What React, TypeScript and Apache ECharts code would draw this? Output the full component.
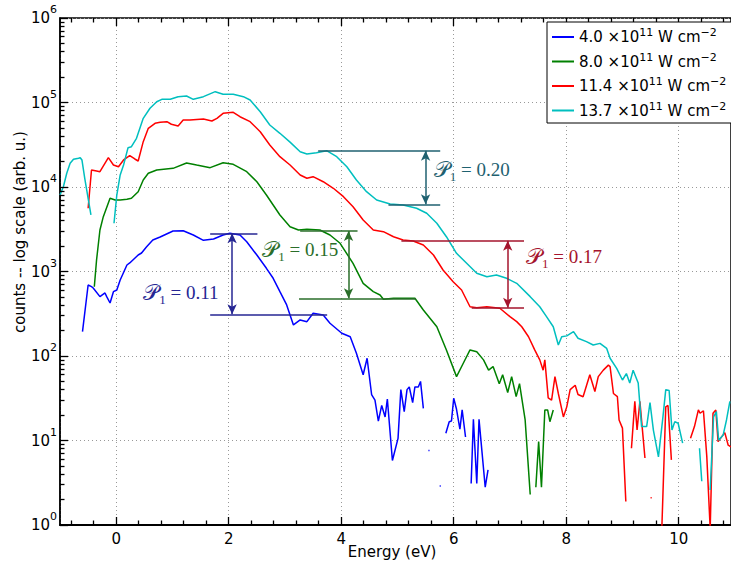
import React, { useEffect, useRef } from 'react';
import * as echarts from 'echarts';

// ---------- data (energy eV, counts) ----------
const seriesNames = ['4.0', '8.0', '11.4', '13.7'];
const seriesColors = ['#0000ff', '#008000', '#ff0000', '#00bfbf'];

const s4_0: (number | null)[][] = [
  [-0.60, 194], [-0.50, 692], [-0.44, 661], [-0.41, 638], [-0.29, 504], [-0.20, 557], [-0.17, 504], [-0.11, 424],
  [-0.05, 577], [0.01, 604], [0.07, 793], [0.19, 1194], [0.24, 1262], [0.39, 1567], [0.45, 1656], [0.54, 1965],
  [0.65, 2359], [0.78, 2558], [1.01, 3013], [1.19, 3041], [1.37, 2704], [1.55, 2339], [1.73, 2426], [1.90, 2704],
  [2.02, 2832], [2.20, 2704], [2.32, 2254], [2.50, 1567], [2.67, 1091], [2.79, 831], [2.91, 577], [3.03, 402],
  [3.15, 233], [3.27, 267], [3.39, 255], [3.50, 320], [3.68, 306], [3.80, 244], [4.01, 186], [4.16, 169],
  [4.27, 108], [4.39, 60], [4.46, 94], [4.54, 35], [4.60, 30], [4.66, 17], [4.72, 26], [4.78, 19], [4.82, 31],
  [4.91, 5.8], [5.01, 10.6], [5.06, 40], [5.12, 22], [5.17, 40], [5.21, 43], [5.27, 28], [5.31, 43], [5.37, 43],
  [5.41, 50], [5.46, 24], [5.50, null], [5.55, 7.6], [5.57, 7.6], [5.65, null], [5.75, 2.9], [5.77, 2.9],
  [5.80, null], [5.86, 12.2], [5.92, 16.7], [5.96, 17], [6.00, 31.6], [6.05, 23.4], [6.11, 13.6], [6.15, 23],
  [6.21, 11], [6.26, null], [6.31, 3.1], [6.35, 17.8], [6.41, 3.1], [6.45, 17.8], [6.56, 2.8], [6.61, 4.5],
];

const s8_0: (number | null)[][] = [
  [-0.39, 661], [-0.35, 1368], [-0.29, 3098], [-0.23, 4456], [-0.11, 7350], [-0.02, 7020], [0.07, 7020],
  [0.19, 7150], [0.27, 7350], [0.39, 8800], [0.48, 12100], [0.57, 14530], [0.72, 15900], [1.01, 16630],
  [1.25, 19230], [1.43, 18200], [1.67, 16940], [1.90, 19400], [2.08, 18570], [2.32, 15170], [2.50, 11550],
  [2.67, 8040], [2.79, 6125], [2.91, 4665], [3.09, 3388], [3.24, 3100], [3.39, 3157], [3.62, 3100],
  [3.80, 2704], [3.98, 2157], [4.21, 1250], [4.39, 725], [4.57, 577], [4.69, 527], [4.75, 469], [4.93, 482],
  [5.16, 482], [5.31, 482], [5.46, 350], [5.70, 222], [5.87, 118], [6.05, 57], [6.17, 82], [6.29, 118],
  [6.41, 112], [6.53, 90], [6.62, 68], [6.70, 75], [6.81, 47], [6.87, 60], [6.96, 37], [7.03, 57], [7.11, 33],
  [7.17, 47], [7.27, 17.5], [7.36, 2.3], [7.41, null], [7.46, 2.8], [7.51, 9.7], [7.56, 2.8], [7.62, 23],
  [7.67, 23], [7.71, 16.7], [7.77, 23],
];

const s11_4: (number | null)[][] = [
  [-0.50, 5600], [-0.44, 15900], [-0.35, 15460], [-0.29, 15170], [-0.14, 22230], [-0.05, 18200], [0.04, 17380],
  [0.13, 20880], [0.24, 23500], [0.33, 21450], [0.39, 20300], [0.48, 34390], [0.57, 49500], [0.69, 56750],
  [0.78, 58300], [0.90, 59300], [0.98, 55250], [1.10, 52700], [1.19, 62100], [1.31, 62100], [1.55, 63800],
  [1.70, 60400], [1.79, 65000], [1.90, 74500], [2.08, 76600], [2.20, 67900], [2.38, 59300], [2.56, 45100],
  [2.73, 31400], [2.91, 22860], [3.09, 18200], [3.27, 13870], [3.39, 12680], [3.50, 13250], [3.68, 11550],
  [3.86, 9660], [4.04, 7680], [4.21, 5850], [4.39, 4070], [4.57, 3100], [4.75, 2960], [4.93, 2580],
  [5.10, 2360], [5.28, 2297], [5.46, 2060], [5.64, 1567], [5.81, 1042], [5.99, 757], [6.14, 604], [6.29, 383],
  [6.41, 373], [6.59, 383], [6.82, 367], [7.00, 292], [7.12, 255], [7.21, 222], [7.33, 169], [7.44, 118],
  [7.53, 90], [7.59, 68], [7.62, 90], [7.68, 32], [7.74, 30], [7.80, 57], [7.86, 36], [7.95, 19], [8.01, 25],
  [8.07, 40], [8.16, 45], [8.21, 35], [8.30, 33], [8.42, 60], [8.51, 38], [8.57, 57], [8.66, 68], [8.75, 78],
  [8.78, 75], [8.84, 36], [8.91, 33], [8.94, 17.5], [9.00, 14], [9.06, 1.9], [9.11, null], [9.16, 8.1],
  [9.22, 29], [9.26, 13.3], [9.31, 29], [9.40, 6.2], [9.45, null], [9.50, 2.1], [9.52, 2.1], [9.60, null],
  [9.70, 0.9], [9.77, 25], [9.81, 26], [9.87, 5.9], [10.0, null], [10.21, 10.6], [10.28, 14.6], [10.35, 23],
  [10.38, 21], [10.44, 22.5], [10.50, 6.4], [10.56, 0.9], [10.61, 21], [10.66, 23], [10.70, 9.7],
  [10.82, 12.4], [10.88, 8.8], [10.93, 8.4],
];

const s13_7: (number | null)[][] = [
  [-1.00, 8040], [-0.94, 10080], [-0.88, 14530], [-0.82, 19070], [-0.76, 21260], [-0.67, 21860], [-0.64, 22230],
  [-0.61, 20880], [-0.56, 12680], [-0.50, 7350], [-0.45, 4665], [-0.30, null], [-0.04, 3720], [0.01, 8040],
  [0.07, 13870], [0.13, 18200], [0.21, 29200], [0.27, 30000], [0.36, 37700], [0.48, 65000], [0.60, 85400],
  [0.72, 102100], [0.81, 109100], [0.96, 109100], [1.10, 117200], [1.25, 119400], [1.37, 109100],
  [1.55, 117200], [1.76, 134300], [1.90, 125100], [2.08, 125100], [2.26, 117200], [2.38, 107000],
  [2.56, 77800], [2.73, 54200], [2.91, 43200], [3.09, 34000], [3.27, 26180], [3.39, 24600], [3.56, 25470],
  [3.74, 26900], [3.92, 22860], [4.10, 17380], [4.27, 12110], [4.45, 8800], [4.63, 7020], [4.87, 6300],
  [5.10, 6125], [5.34, 5600], [5.52, 4885], [5.70, 3720], [5.87, 2580], [6.05, 1642], [6.23, 1250],
  [6.41, 952], [6.59, 867], [6.76, 909], [6.94, 831], [7.12, 725], [7.36, 504], [7.53, 383], [7.65, 292],
  [7.77, 222], [7.86, 135], [7.92, 169], [8.01, 173], [8.13, 194], [8.21, 162], [8.36, 148], [8.48, 135],
  [8.60, 141], [8.72, 123], [8.78, 94], [8.90, 71], [9.00, 52], [9.07, 62], [9.13, 48], [9.19, 68], [9.28, 48],
  [9.34, 14.6], [9.43, 14.6], [9.49, 28], [9.55, 13.3], [9.64, 6.4], [9.72, 19], [9.77, 40], [9.83, 39],
  [9.88, 13.3], [9.93, 16.7], [9.99, 16], [10.07, 9.3], [10.20, null], [10.37, 8.1], [10.41, 3.3],
  [10.50, null], [10.56, 2.6], [10.62, 19], [10.67, 22], [10.71, 10.1], [10.79, 11.6], [10.85, 17.5],
  [10.91, 29],
];

// ---------- annotations: [xStart, xEnd, y] lines, arrow [x, yTop, yBottom], label [x, y, text] ----------
const annColors = ['#262693', '#2a6e2a', '#a5142d', '#1f6170'];
const annTopLines = [[1.67, 2.51, 2832], [3.27, 4.29, 3013], [5.07, 7.25, 2315], [3.59, 5.76, 26900]];
const annBottomLines = [[1.67, 3.75, 311], [3.25, 5.33, 482], [6.32, 7.25, 373], [4.84, 5.76, 6240]];
const annArrows = [[2.06, 2832, 311], [4.13, 3013, 482], [6.96, 2315, 373], [5.50, 26900, 6240]];
const annLabels = [[1.15, 557, '0.11'], [3.27, 1797, '0.15'], [7.96, 1485, '0.17'], [6.32, 15900, '0.20']];

// ---------- axes ----------
const xMin = -1;
const xMax = 10.93;
const yMin = 1;
const yMax = 1e6;
const xMajorTicks = [0, 2, 4, 6, 8, 10];
const xMinorStep = 0.4;
const yDecades = [0, 1, 2, 3, 4, 5];

const FONT = 'DejaVu Sans';
const MATH_FONT = 'Liberation Serif';

export default function App() {
  const ref = useRef<HTMLDivElement>(null);
  useEffect(() => {
    const chart = echarts.init(ref.current!, null, { renderer: 'svg' });

    // plot scale (px per unit) used only to turn tick lengths into data-space offsets
    const pxPerDecade = 507 / 6;
    const pxPerEv = 671 / (xMax - xMin);
    const tickStyle = { color: '#000', width: 1.3, type: 'solid' };
    const tickLines: any[] = [];
    for (let i = -2; i <= 27; i++) {
      const v = Math.round(i * xMinorStep * 10) / 10;
      const major = xMajorTicks.some((m) => Math.abs(m - v) < 1e-6);
      const f = Math.pow(10, (major ? 8 : 4.5) / pxPerDecade);
      tickLines.push([
        { coord: [v, yMin], symbol: 'none', lineStyle: tickStyle },
        { coord: [v, yMin * f], symbol: 'none' },
      ]);
      tickLines.push([
        { coord: [v, yMax], symbol: 'none', lineStyle: tickStyle },
        { coord: [v, yMax / f], symbol: 'none' },
      ]);
    }
    yDecades.forEach((d) => {
      for (let m = 1; m <= 9; m++) {
        const y = m * Math.pow(10, d);
        const dx = (m === 1 ? 8 : 4.5) / pxPerEv;
        tickLines.push([
          { coord: [xMin, y], symbol: 'none', lineStyle: tickStyle },
          { coord: [xMin + dx, y], symbol: 'none' },
        ]);
      }
    });
    tickLines.push([
      { coord: [xMin, yMax], symbol: 'none', lineStyle: tickStyle },
      { coord: [xMin + 8 / pxPerEv, yMax], symbol: 'none' },
    ]);

    const datasets = [s4_0, s8_0, s11_4, s13_7];

    const lineSeries = datasets.map((d, i) => ({
      name: seriesNames[i],
      type: 'line',
      data: d,
      showSymbol: false,
      symbol: 'none',
      lineStyle: { color: seriesColors[i], width: 1.5 },
      itemStyle: { color: seriesColors[i] },
      connectNulls: false,
      z: 3,
      markLine: {
        silent: true,
        animation: false,
        label: { show: false },
        symbol: ['none', 'none'],
        lineStyle: { color: annColors[i], width: 1.5, type: 'solid' },
        data: [
          [
            { coord: [annTopLines[i][0], annTopLines[i][2]], symbol: 'none' },
            { coord: [annTopLines[i][1], annTopLines[i][2]], symbol: 'none' },
          ],
          [
            { coord: [annBottomLines[i][0], annBottomLines[i][2]], symbol: 'none' },
            { coord: [annBottomLines[i][1], annBottomLines[i][2]], symbol: 'none' },
          ],
          [
            { coord: [annArrows[i][0], annArrows[i][1]], symbol: 'arrow', symbolSize: [7, 10] },
            { coord: [annArrows[i][0], annArrows[i][2]], symbol: 'arrow', symbolSize: [7, 10] },
          ],
          ...(i === 0 ? tickLines : []),
        ],
      },
      markPoint: {
        silent: true,
        animation: false,
        symbol: 'circle',
        symbolSize: 0,
        data: [
          {
            coord: [annLabels[i][0], annLabels[i][1]],
            label: {
              show: true,
              position: 'inside',
              formatter: `{p|\u{1D4AB}}{sub|1}{t| = ${annLabels[i][2]}}`,
              rich: {
                p: { fontFamily: MATH_FONT, fontSize: 22, color: annColors[i], lineHeight: 26 },
                sub: { fontFamily: MATH_FONT, fontSize: 13, color: annColors[i], lineHeight: 14, verticalAlign: 'bottom' },
                t: { fontFamily: MATH_FONT, fontSize: 19, color: annColors[i], lineHeight: 26 },
              },
            },
          },
        ],
      },
    }));

    const gridLine = { show: true, lineStyle: { color: '#999999', type: [1, 3], width: 1 } };

    const option: any = {
      animation: false,
      grid: {
        left: 60,
        top: 18,
        right: 0,
        bottom: 42,
        show: true,
        borderColor: '#000',
        borderWidth: 1.5,
      },
      legend: {
        data: seriesNames,
        orient: 'vertical',
        left: 547,
        top: 22,
        padding: [5, 6, 5, 5],
        itemGap: 7,
        itemWidth: 22,
        itemHeight: 2,
        icon: 'rect',
        backgroundColor: '#ffffff',
        borderColor: '#000',
        borderWidth: 1,
        borderRadius: 0,
        selectedMode: false,
        formatter: (name: string) => `{t|${name} \u00d710}{s|11}{t| W cm}{s|\u22122}`,
        textStyle: {
          color: '#000',
          rich: {
            t: { fontFamily: FONT, fontSize: 15, color: '#000', lineHeight: 20 },
            s: { fontFamily: FONT, fontSize: 11, color: '#000', lineHeight: 10, verticalAlign: 'top' },
          },
        },
        z: 10,
      },
      xAxis: {
        type: 'value',
        min: xMin,
        max: xMax,
        splitNumber: 6,
        axisLine: { show: true, onZero: false, lineStyle: { color: '#000', width: 2 } },
        axisTick: { show: false },
        axisLabel: {
          showMinLabel: false,
          showMaxLabel: false,
          margin: 6,
          fontFamily: FONT,
          fontSize: 15,
          color: '#000',
        },
        splitLine: gridLine,
      },
      yAxis: {
        type: 'log',
        logBase: 10,
        min: yMin,
        max: yMax,
        axisLine: { show: true, onZero: false, lineStyle: { color: '#000', width: 1.5 } },
        axisTick: { show: false },
        minorTick: { show: false },
        axisLabel: {
          margin: 3,
          formatter: (v: number) => `{b|10}{s|${Math.round(Math.log10(v))}}`,
          rich: {
            b: { fontFamily: FONT, fontSize: 15, color: '#000', lineHeight: 28 },
            s: { fontFamily: FONT, fontSize: 11, color: '#000', lineHeight: 10, verticalAlign: 'top' },
          },
        },
        splitLine: gridLine,
      },
      graphic: [
        {
          type: 'text',
          x: 20,
          y: 232,
          rotation: Math.PI / 2,
          style: {
            text: 'counts -- log scale (arb. u.)',
            fontFamily: FONT,
            fontSize: 15,
            fill: '#000',
            align: 'center',
            verticalAlign: 'middle',
          },
        },
        {
          type: 'text',
          x: 392,
          y: 552,
          style: {
            text: 'Energy (eV)',
            fontFamily: FONT,
            fontSize: 15,
            fill: '#000',
            align: 'center',
            verticalAlign: 'middle',
          },
        },
      ],
      series: lineSeries,
    };

    chart.setOption(option);
    return () => chart.dispose();
  }, []);
  return <div ref={ref} style={{ position: 'absolute', left: 0, top: 0, width: 731, height: 567, background: '#fff' }} />;
}
